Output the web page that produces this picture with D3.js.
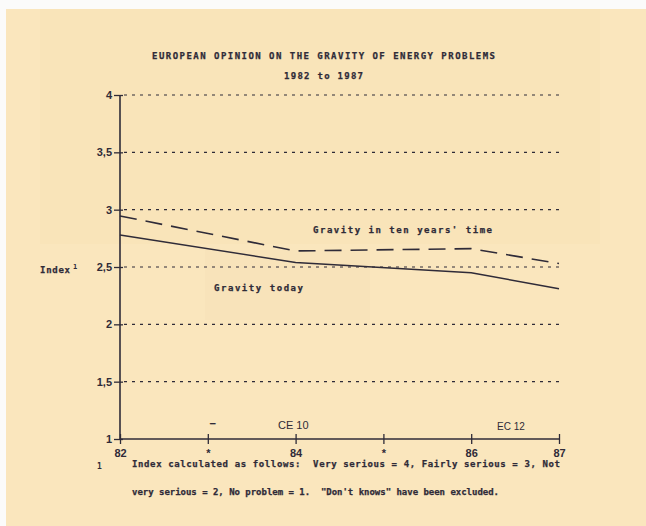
<!DOCTYPE html>
<html><head><meta charset="utf-8">
<script src="https://cdn.jsdelivr.net/npm/d3@7"></script>
<style>body{margin:0;background:#fbfbfa}svg{display:block}text{white-space:pre}</style>
</head><body>
<svg id="c" width="646" height="526"></svg>
<script>
const years = [1982, 1983, 1984, 1985, 1986, 1987];
const xTickLabels = ["82", "*", "84", "*", "86", "87"];
const yTicks = [1, 1.5, 2, 2.5, 3, 3.5, 4];
const yTickLabels = ["1", "1,5", "2", "2,5", "3", "3,5", "4"];
const gravityYears = [1982, 1984, 1986, 1987];
const gravityToday = [2.78, 2.54, 2.45, 2.31];
const gravityFuture = [2.945, 2.64, 2.66, 2.53];

const ink = "#2f2b38";
const svg = d3.select("#c");
// background paper
svg.append("rect").attr("x",6).attr("y",9).attr("width",640).attr("height",517).attr("fill","#fae6bd");
svg.append("rect").attr("x",40).attr("y",9).attr("width",560).attr("height",235).attr("fill","#f7e1b5").attr("opacity",0.5);
svg.append("rect").attr("x",205).attr("y",250).attr("width",165).attr("height",70).attr("fill","#f5dfb6").attr("opacity",0.4);

const x = d3.scaleLinear().domain([1982, 1987]).range([120, 559]);
const y = d3.scaleLinear().domain([1, 4]).range([439, 95]);

const mono = "'DejaVu Sans Mono', monospace";

// gridlines
svg.append("g").selectAll("line").data(yTicks.filter(d => d > 1)).join("line")
  .attr("x1", 124).attr("x2", 562).attr("y1", d => y(d)).attr("y2", d => y(d))
  .attr("stroke", ink).attr("stroke-width", 1.1).attr("stroke-dasharray", "3,5");

// y axis
const yAxis = d3.axisLeft(y).tickValues(yTicks).tickFormat((d, i) => yTickLabels[i]).tickSize(6).tickPadding(2);
const gy = svg.append("g").attr("transform", "translate(120,0)").call(yAxis);
gy.select(".domain").attr("stroke", ink).attr("stroke-width", 1.6).attr("d", `M0,${y(4)}V${y(1)}`);
gy.selectAll(".tick line").attr("stroke", ink).attr("stroke-width", 1.3).attr("x1", 3);
gy.selectAll(".tick text").attr("fill", ink).attr("font-family", "Liberation Sans, Arial, sans-serif")
  .attr("font-size", 11).attr("font-weight", "bold");

// x axis
const xAxis = d3.axisBottom(x).tickValues(years).tickFormat((d, i) => xTickLabels[i]).tickSize(6).tickPadding(5);
const gx = svg.append("g").attr("transform", `translate(0,${y(1)})`).call(xAxis);
gx.select(".domain").attr("stroke", ink).attr("stroke-width", 1.6).attr("d", `M120,0H559`);
gx.selectAll(".tick line").attr("stroke", ink).attr("stroke-width", 1.3).attr("y1", -5).attr("y2", 5);
gx.selectAll(".tick text").attr("fill", ink).attr("font-family", "Liberation Sans, Arial, sans-serif")
  .attr("font-size", 11).attr("font-weight", "bold").attr("dy", "0.6em");

// lines
const line = d3.line().x((d, i) => x(gravityYears[i])).y(d => y(d));
svg.append("path").datum(gravityToday).attr("d", line).attr("fill", "none")
  .attr("stroke", ink).attr("stroke-width", 1.5);
svg.append("path").datum(gravityFuture).attr("d", line).attr("fill", "none")
  .attr("stroke", ink).attr("stroke-width", 1.6).attr("stroke-dasharray", "17,9");

function t(txt, xx, yy, len, size, anchor) {
  const el = svg.append("text").attr("x", xx).attr("y", yy).text(txt)
    .attr("fill", ink).attr("font-family", mono).attr("font-weight", "bold")
    .attr("font-size", size || 9).attr("stroke", ink).attr("stroke-width", 0.25);
  if (len) el.attr("textLength", len).attr("lengthAdjust", "spacing");
  if (anchor) el.attr("text-anchor", anchor);
  return el;
}
t("EUROPEAN OPINION ON THE GRAVITY OF ENERGY PROBLEMS", 152, 59, 343);
t("1982 to 1987", 284, 79, 79);
t("Gravity in ten years' time", 313, 233, 179);
t("Gravity today", 214, 291, 89);
t("Index", 40, 273, 30);
svg.append("text").attr("x", 73).attr("y", 269).text("1").attr("fill", ink)
  .attr("font-family", mono).attr("font-weight", "bold").attr("font-size", 7);
t("\u2014", 210, 426, null, 9);
svg.append("text").attr("x", 278).attr("y", 429).text("CE 10").attr("fill", ink)
  .attr("font-family", "Liberation Sans, Arial, sans-serif").attr("font-size", 11);
svg.append("text").attr("x", 497).attr("y", 430).text("EC 12").attr("fill", ink)
  .attr("font-family", "Liberation Sans, Arial, sans-serif").attr("font-size", 10);
svg.append("text").attr("x", 97).attr("y", 469).text("1").attr("fill", ink)
  .attr("font-family", mono).attr("font-weight", "bold").attr("font-size", 8);
t("Index calculated as follows:  Very serious = 4, Fairly serious = 3, Not", 132, 467, 428);
t("very serious = 2, No problem = 1.  \"Don't knows\" have been excluded.", 132, 495, 367);
</script>
</body></html>
